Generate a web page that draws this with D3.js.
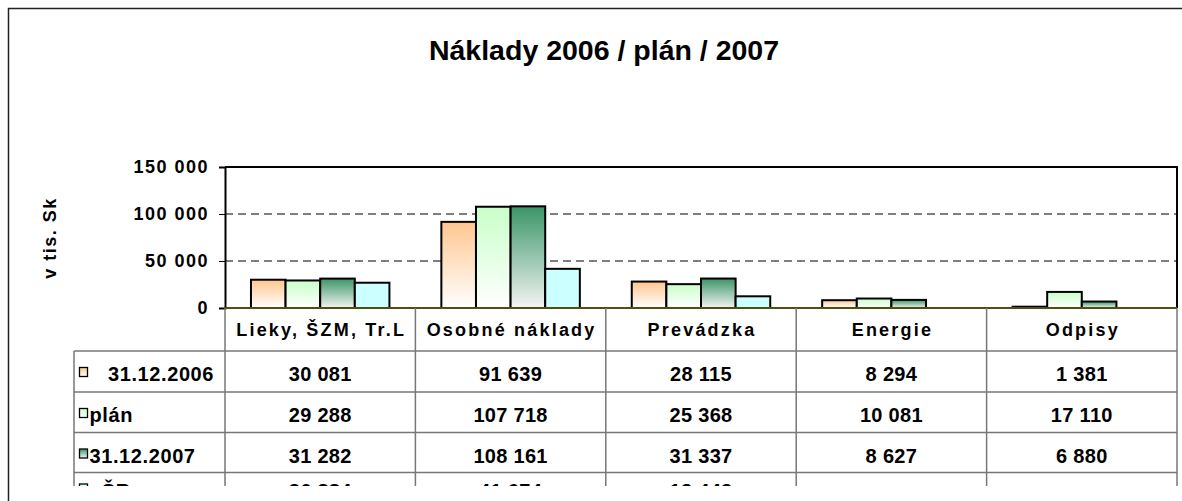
<!DOCTYPE html>
<html>
  <head>
  <title>Náklady 2006 / plán / 2007</title>
  <style>
    body, html {
      margin: 0;
      padding: 0;
      background: #fff;
    }
    svg text {
      font-family: Arial, "Liberation Sans", sans-serif;
      font-weight: bold;
      fill: #000;
      white-space: pre;
    }
  </style>
  </head>
  <body>
    <svg id="svg" width="1182" height="501"></svg>
  <script src="https://cdn.jsdelivr.net/npm/d3@7"></script>
  <script>
    const categories = ["Lieky, ŠZM, Tr.L", "Osobné náklady", "Prevádzka", "Energie", "Odpisy"]
    const seriesNames = ["31.12.2006", "plán", "31.12.2007", "ŠR"]
    const seriesLabels = ["   31.12.2006", "plán", "31.12.2007", "  ŠR"]
    const values2006 = [30081, 91639, 28115, 8294, 1381]
    const valuesPlan = [29288, 107718, 25368, 10081, 17110]
    const values2007 = [31282, 108161, 31337, 8627, 6880]
    const valuesFourth = [26884, 41674, 12443, null, null]
    const yTicks = [0, 50000, 100000, 150000]

    function renderChart() {
      const allValues = [values2006, valuesPlan, values2007, valuesFourth]
      const svg = d3.select('#svg')
      const fmt = d3.formatLocale({ decimal: ",", thousands: " ", grouping: [3], currency: ["", ""] }).format(",d")

      const plot = { left: 225, right: 1177, top: 167, bottom: 308 }

      const xScale = d3.scaleBand()
        .domain(categories)
        .range([plot.left, plot.right])
        .padding(0)

      const xInner = d3.scaleBand()
        .domain(seriesNames)
        .range([0, xScale.bandwidth()])
        .paddingInner(0)
        .paddingOuter(0.75)

      const yScale = d3.scaleLinear()
        .domain([0, 150000])
        .range([plot.bottom, plot.top])

      // gradients like the excel fills
      const defs = svg.append("defs")
      const gradients = [
        { id: "g0", top: "#ffc690", bottom: "#ffffff" },
        { id: "g1", top: "#c8ffc8", bottom: "#ffffff" },
        { id: "g2", top: "#3a9566", bottom: "#f4f4f4" },
        { id: "g3", top: "#ccffff", bottom: "#ccffff" }
      ]
      gradients.forEach(g => {
        const lg = defs.append("linearGradient")
          .attr("id", g.id)
          .attr("x1", 0).attr("y1", 0).attr("x2", 0).attr("y2", 1)
        lg.append("stop").attr("offset", "0%").attr("stop-color", g.top)
        lg.append("stop").attr("offset", "100%").attr("stop-color", g.bottom)
      })
      // the last table row is cut off in the original picture
      defs.append("clipPath").attr("id", "tableClip")
        .append("rect").attr("x", 0).attr("y", 0).attr("width", 1182).attr("height", 486)

      // outer frame
      svg.append("path")
        .attr("d", "M8.5,501 V8.5 H1182")
        .attr("fill", "none")
        .attr("stroke", "#222")
        .attr("stroke-width", 1.5)

      svg.append("text")
        .attr("x", 604)
        .attr("y", 60)
        .attr("text-anchor", "middle")
        .style("font-size", "28.5px")
        .text("Náklady 2006 / plán / 2007")

      // y axis title
      svg.append("text")
        .attr("transform", "translate(56, 238) rotate(-90)")
        .attr("text-anchor", "middle")
        .style("font-size", "18px")
        .style("letter-spacing", "1.5px")
        .text("v tis. Sk")

      // gridlines
      svg.selectAll(".grid")
        .data(yTicks.filter(t => t > 0 && t < 150000))
        .enter().append("line")
        .attr("class", "grid")
        .attr("x1", plot.left).attr("x2", plot.right)
        .attr("y1", d => yScale(d)).attr("y2", d => yScale(d))
        .attr("stroke", "#555")
        .attr("stroke-width", 1.4)
        .attr("stroke-dasharray", "8,5")

      // bars
      const barData = []
      allValues.forEach((vals, s) => {
        vals.forEach((v, c) => {
          if (v != null) barData.push({ s, c, v })
        })
      })
      svg.selectAll(".bar")
        .data(barData)
        .enter().append("rect")
        .attr("class", "bar")
        .attr("x", d => xScale(categories[d.c]) + xInner(seriesNames[d.s]))
        .attr("y", d => yScale(d.v))
        .attr("width", xInner.bandwidth())
        .attr("height", d => yScale(0) - yScale(d.v))
        .attr("fill", d => `url(#g${d.s})`)
        .attr("stroke", "#000")
        .attr("stroke-width", 2)

      // plot frame top and right
      svg.append("path")
        .attr("d", `M${plot.left},${yScale(150000)} H${plot.right} V${yScale(0)}`)
        .attr("fill", "none")
        .attr("stroke", "#000")
        .attr("stroke-width", 2)

      // y axis
      const yAxis = svg.append("g")
        .attr("transform", `translate(${plot.left}, 0)`)
        .call(d3.axisLeft(yScale).tickValues(yTicks).tickSize(6).tickPadding(10).tickFormat(fmt))
      yAxis.select(".domain").attr("stroke", "#000").attr("stroke-width", 2)
      yAxis.selectAll(".tick line").attr("stroke", "#000").attr("stroke-width", 1)
      yAxis.selectAll(".tick text")
        .style("font-size", "18px")
        .style("letter-spacing", "1.5px")
        .attr("x", -16)
        .attr("fill", "#000")

      // zero line
      svg.append("line")
        .attr("x1", plot.left).attr("x2", plot.right)
        .attr("y1", yScale(0)).attr("y2", yScale(0))
        .attr("stroke", "#4f4f14")
        .attr("stroke-width", 2)

      // data table
      const rowTops = [351, 392, 432.5, 472.5]
      const tableBottom = 487
      const tableLeft = 74
      const table = svg.append("g").attr("clip-path", "url(#tableClip)")
      const gridColor = "#777"

      // vertical lines
      const verticals = categories.map(c => xScale(c)).concat([plot.right])
      table.selectAll(".vline")
        .data(verticals)
        .enter().append("line")
        .attr("x1", d => d).attr("x2", d => d)
        .attr("y1", yScale(0)).attr("y2", tableBottom)
        .attr("stroke", gridColor).attr("stroke-width", 1.5)
      table.append("line")
        .attr("x1", tableLeft).attr("x2", tableLeft)
        .attr("y1", rowTops[0]).attr("y2", tableBottom)
        .attr("stroke", gridColor).attr("stroke-width", 1.5)
      table.selectAll(".hline")
        .data(rowTops.concat([tableBottom]))
        .enter().append("line")
        .attr("x1", tableLeft).attr("x2", plot.right)
        .attr("y1", d => d).attr("y2", d => d)
        .attr("stroke", gridColor).attr("stroke-width", 1.5)

      // header
      svg.selectAll(".head")
        .data(categories)
        .enter().append("text")
        .attr("x", d => xScale(d) + xScale.bandwidth() / 2 + 1)
        .attr("y", 336)
        .attr("text-anchor", "middle")
        .style("font-size", "18px")
        .style("letter-spacing", "2.2px")
        .text(d => d)

      // rows
      seriesNames.forEach((name, s) => {
        const base = rowTops[s] + (s < 3 ? 30 : 25)
        table.append("rect")
          .attr("x", 79.5).attr("y", base - 13.5)
          .attr("width", 8).attr("height", 9)
          .attr("fill", `url(#g${s})`)
          .attr("stroke", "#000").attr("stroke-width", 1.3)
        table.append("text")
          .attr("x", 89.5)
          .attr("y", base)
          .style("font-size", "20px")
          .style("letter-spacing", "0.6px")
          .text(seriesLabels[s])
        table.selectAll(null)
          .data(allValues[s])
          .enter().append("text")
          .attr("x", (d, i) => xScale(categories[i]) + xScale.bandwidth() / 2)
          .attr("y", base)
          .attr("text-anchor", "middle")
          .style("font-size", "20px")
          .style("letter-spacing", "0.3px")
          .text(d => d == null ? "" : fmt(d))
      })
    }
    renderChart()
  </script>
  </body>
</html>
